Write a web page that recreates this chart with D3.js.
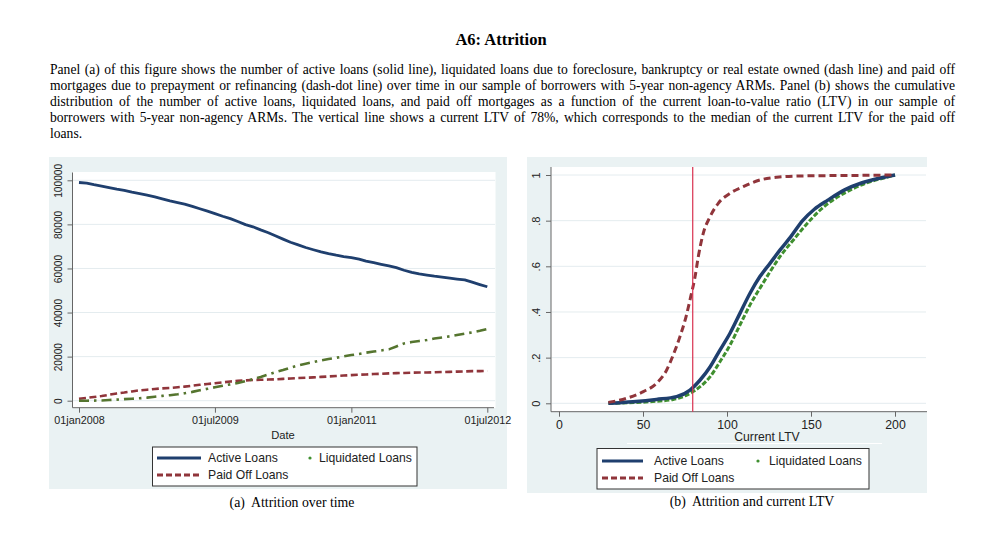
<!DOCTYPE html>
<html><head><meta charset="utf-8">
<script src="https://cdn.jsdelivr.net/npm/d3@7"></script>
<style>
html,body{margin:0;padding:0;background:#fff;}
svg{display:block;}
</style></head>
<body>
<svg id="c" width="1000" height="539"></svg>
<script>
// ---------- DATA ----------
const titleText = "A6: Attrition";
const paragraphLines = [
  "Panel (a) of this figure shows the number of active loans (solid line), liquidated loans due to foreclosure, bankruptcy or real estate owned (dash line) and paid off",
  "mortgages due to prepayment or refinancing (dash-dot line) over time in our sample of borrowers with 5-year non-agency ARMs. Panel (b) shows the cumulative",
  "distribution of the number of active loans, liquidated loans, and paid off mortgages as a function of the current loan-to-value ratio (LTV) in our sample of",
  "borrowers with 5-year non-agency ARMs. The vertical line shows a current LTV of 78%, which corresponds to the median of the current LTV for the paid off",
  "loans."
];
const captionA = "(a)  Attrition over time";
const captionB = "(b)  Attrition and current LTV";
const seriesNames = ["Active Loans", "Liquidated Loans", "Paid Off Loans"];

// Panel (a): monthly counts, Jan 2008 .. Jul 2012
const firstMonth = "2008-01-01";
const activeLoans = [99000,98700,98000,97400,96700,96000,95400,94600,94000,93300,92500,91600,
  90700,89900,89200,88200,87100,86000,84900,83700,82600,81300,79900,78900,
  77500,76200,74800,73300,71900,70700,69500,68500,67500,66700,66000,65400,
  64900,64200,63300,62600,61900,61200,60400,59200,58200,57500,57000,56500,
  56100,55600,55200,54800,53800,52700,51700];
const liquidatedLoans = [0,0,50,100,300,500,700,900,1100,1400,1800,2200,
  2500,2900,3400,4000,4700,5400,6100,6800,7400,8000,8900,9800,
  10800,11900,12900,13900,15000,16000,16800,17500,18300,18900,19500,20100,
  20700,21200,21800,22300,22800,23300,24600,26000,26600,27100,27500,28200,
  28700,29200,29800,30400,31000,31700,32500];
const paidOffLoans = [900,1300,1700,2100,2700,3300,3700,4200,4700,5000,5300,5600,
  5800,6100,6400,6800,7200,7600,7900,8300,8700,9000,9200,9400,
  9500,9600,9700,9900,10100,10300,10400,10600,10800,11000,11200,11400,
  11600,11800,11900,12100,12200,12400,12500,12600,12700,12800,12800,12900,
  13000,13100,13200,13300,13400,13400,13500];
const dateTicks = ["2008-01-01","2009-07-01","2011-01-01","2012-07-01"];
const countTicks = [0,20000,40000,60000,80000,100000];

// Panel (b): cumulative distributions by current LTV
const ltvActive = [29.4,44,58,70,78,84,90,95.8,101.8,107.7,113.7,119.6,125.6,131.5,138,145,152,160,170,180,190,200];
const cdfActive = [0,0.007,0.017,0.029,0.058,0.102,0.16,0.233,0.307,0.394,0.482,0.555,0.613,0.671,0.73,0.80,0.85,0.89,0.935,0.965,0.985,1];
const ltvLiquidated = [29.4,54,68,76,84,90,95.8,101.8,107.7,113.7,119.6,125.6,131.5,140,148,156,165,175,185,195,200];
const cdfLiquidated = [0,0.007,0.017,0.036,0.073,0.117,0.182,0.255,0.343,0.431,0.504,0.576,0.642,0.72,0.79,0.85,0.90,0.94,0.97,0.99,1];
const ltvPaidOff = [29.4,40.3,50.2,58.1,64.1,68,72,75.6,78.4,81,82.9,85.9,89.9,94.8,101.8,109.7,119.6,129.6,145,175,200];
const cdfPaidOff = [0.004,0.022,0.051,0.088,0.146,0.212,0.292,0.379,0.467,0.555,0.642,0.745,0.817,0.876,0.92,0.949,0.978,0.99,0.996,0.998,1];
const medianLTV = 79.6;
const ltvTicks = [0,50,100,150,200];
const shareTicks = [0,0.2,0.4,0.6,0.8,1];

// ---------- STYLE ----------
const C = {
  bg:"#eaf2f3", grid:"#e4ecef", axis:"#666", text:"#222",
  navy:"#1f3f6e", maroon:"#90353b", olive:"#55752f", green:"#3f8f2f", vline:"#d9304f"
};
const sans = "'Liberation Sans', Arial, sans-serif";
const serif = "'Liberation Serif', 'Times New Roman', serif";

const svg = d3.select("#c");
svg.append("rect").attr("width",1000).attr("height",539).attr("fill","#fff");

// ---------- TITLE + PARAGRAPH ----------
svg.append("text").attr("x",501).attr("y",45).attr("text-anchor","middle")
  .attr("font-family",serif).attr("font-weight","bold").attr("font-size",16.5)
  .attr("fill","#000").text(titleText);

const parX0 = 50, parX1 = 955, parBase = 73.5, parLead = 16;
paragraphLines.forEach((ln,i)=>{
  const t = svg.append("text").attr("x",parX0).attr("y",parBase+i*parLead)
    .attr("font-family",serif).attr("font-size",13.6).attr("fill","#000")
    .attr("xml:space","preserve").text(ln);
  if (i < paragraphLines.length-1) {
    const w = t.node().getComputedTextLength();
    const spaces = (ln.match(/ /g)||[]).length;
    t.attr("word-spacing", ((parX1-parX0)-w)/spaces);
  }
});

// ---------- helpers ----------
function legend(g, x0, y0, x1, y1, row1, row2, lx0, lx1, tx, dx, dtx){
  g.append("rect").attr("x",x0).attr("y",y0).attr("width",x1-x0).attr("height",y1-y0)
    .attr("fill","#fff").attr("stroke","#333").attr("stroke-width",1);
  g.append("line").attr("x1",lx0).attr("x2",lx1).attr("y1",row1).attr("y2",row1)
    .attr("stroke",C.navy).attr("stroke-width",3);
  g.append("line").attr("x1",lx0).attr("x2",lx1).attr("y1",row2).attr("y2",row2)
    .attr("stroke",C.maroon).attr("stroke-width",3).attr("stroke-dasharray","6,3");
  g.append("circle").attr("cx",dx).attr("cy",row1).attr("r",1.6).attr("fill",C.green);
  const tt = [[tx,row1,seriesNames[0]],[dtx,row1,seriesNames[1]],[tx,row2,seriesNames[2]]];
  tt.forEach(d=>g.append("text").attr("x",d[0]).attr("y",d[1]).attr("dy","0.35em")
    .attr("font-family",sans).attr("font-size",12.2).attr("fill",C.text).text(d[2]));
}

// ---------- PANEL A ----------
const A = svg.append("g");
A.append("rect").attr("x",49).attr("y",157).attr("width",458).attr("height",332).attr("fill",C.bg);
A.append("rect").attr("x",72.5).attr("y",172).attr("width",423).attr("height",236).attr("fill","#fff");

const parseD = d3.timeParse("%Y-%m-%d");
const months = activeLoans.map((_,i)=>d3.timeMonth.offset(parseD(firstMonth),i));
const xA = d3.scaleTime().domain([parseD(dateTicks[0]), parseD(dateTicks[3])]).range([79,487.3]);
const yA = d3.scaleLinear().domain([0,100000]).range([400.7,180.3]);

A.append("g").selectAll("line").data(countTicks).join("line")
  .attr("x1",73).attr("x2",495).attr("y1",d=>yA(d)).attr("y2",d=>yA(d))
  .attr("stroke",C.grid).attr("stroke-width",1);

const fmtDate = d=>d3.timeFormat("%d%b%Y")(d).toLowerCase();
const axA = A.append("g").attr("transform","translate(0,407.7)")
  .call(d3.axisBottom(xA).tickValues(dateTicks.map(parseD)).tickFormat(fmtDate).tickSize(5).tickPadding(4));
axA.select(".domain").attr("d","M72.5,0H494");
const ayA = A.append("g").attr("transform","translate(72.5,0)")
  .call(d3.axisLeft(yA).tickValues(countTicks).tickFormat(d3.format("d")).tickSize(5).tickPadding(3));
ayA.select(".domain").attr("d","M0,172.5V407.7");
[axA,ayA].forEach(a=>{
  a.selectAll(".domain,.tick line").attr("stroke",C.axis);
  a.selectAll("text").attr("font-family",sans).attr("fill",C.text);
});
axA.selectAll("text").attr("font-size",10.8);
ayA.selectAll("text").attr("font-size",10.2).attr("text-anchor","middle")
  .attr("x",null).attr("dy",null)
  .attr("transform","translate(-14,0) rotate(-90)").attr("y",0).attr("dy","0.35em");

A.append("text").attr("x",283).attr("y",439).attr("text-anchor","middle")
  .attr("font-family",sans).attr("font-size",11.2).attr("fill",C.text).text("Date");

const lineA = vals => d3.line().x((d,i)=>xA(months[i])).y(d=>yA(d))(vals);
A.append("path").attr("d",lineA(paidOffLoans)).attr("fill","none")
  .attr("stroke",C.maroon).attr("stroke-width",2.6).attr("stroke-dasharray","7,3.5");
A.append("path").attr("d",lineA(liquidatedLoans)).attr("fill","none")
  .attr("stroke",C.olive).attr("stroke-width",2.6).attr("stroke-dasharray","10,5,2.5,5");
A.append("path").attr("d",lineA(activeLoans)).attr("fill","none")
  .attr("stroke",C.navy).attr("stroke-width",2.8).attr("stroke-linejoin","round");

legend(A,152.5,447,417,486,458,475,157,201,208,310,319);

svg.append("text").attr("x",292).attr("y",507).attr("text-anchor","middle")
  .attr("font-family",serif).attr("font-size",13.8).attr("fill","#000")
  .attr("xml:space","preserve").text(captionA);

// ---------- PANEL B ----------
const B = svg.append("g");
B.append("rect").attr("x",527).attr("y",157).attr("width",400).attr("height",336).attr("fill",C.bg);
B.append("rect").attr("x",551).attr("y",167).attr("width",376).attr("height",244.7).attr("fill","#fff");

const xB = d3.scaleLinear().domain([0,200]).range([559,895]);
const yB = d3.scaleLinear().domain([0,1]).range([403.3,175]);

B.append("g").selectAll("line").data(shareTicks).join("line")
  .attr("x1",551.5).attr("x2",926).attr("y1",d=>yB(d)).attr("y2",d=>yB(d))
  .attr("stroke",C.grid).attr("stroke-width",1);

const axB = B.append("g").attr("transform","translate(0,411.7)")
  .call(d3.axisBottom(xB).tickValues(ltvTicks).tickFormat(d3.format("d")).tickSize(5).tickPadding(4));
axB.select(".domain").attr("d","M551,0H927");
const fmtShare = d => d===0 ? "0" : d===1 ? "1" : d3.format(".1f")(d).replace(/^0/,"");
const ayB = B.append("g").attr("transform","translate(551,0)")
  .call(d3.axisLeft(yB).tickValues(shareTicks).tickFormat(fmtShare).tickSize(5).tickPadding(3));
ayB.select(".domain").attr("d","M0,167V411.7");
[axB,ayB].forEach(a=>{
  a.selectAll(".domain,.tick line").attr("stroke",C.axis);
  a.selectAll("text").attr("font-family",sans).attr("fill",C.text);
});
axB.selectAll("text").attr("font-size",12.3);
ayB.selectAll("text").attr("font-size",11).attr("text-anchor","middle")
  .attr("x",null).attr("dy",null)
  .attr("transform","translate(-15,0) rotate(-90)").attr("y",0).attr("dy","0.35em");

B.append("text").attr("x",767).attr("y",441).attr("text-anchor","middle")
  .attr("font-family",sans).attr("font-size",12.2).attr("fill",C.text).text("Current LTV");
B.append("line").attr("x1",627).attr("x2",882).attr("y1",443.5).attr("y2",443.5)
  .attr("stroke","#fff").attr("stroke-width",1.2);

const lineB = (xs,ys) => d3.line().curve(d3.curveMonotoneX)
  .x((d,i)=>xB(xs[i])).y((d,i)=>yB(ys[i]))(xs);
B.append("path").attr("d",lineB(ltvLiquidated,cdfLiquidated)).attr("fill","none")
  .attr("stroke",C.green).attr("stroke-width",3).attr("stroke-dasharray","5,2");
B.append("path").attr("d",lineB(ltvActive,cdfActive)).attr("fill","none")
  .attr("stroke",C.navy).attr("stroke-width",3.5);
B.append("path").attr("d",lineB(ltvPaidOff,cdfPaidOff)).attr("fill","none")
  .attr("stroke",C.maroon).attr("stroke-width",3).attr("stroke-dasharray","7,4");
B.append("line").attr("x1",xB(medianLTV)).attr("x2",xB(medianLTV)).attr("y1",167).attr("y2",411.7)
  .attr("stroke",C.vline).attr("stroke-width",1.2);

legend(B,597,448.5,869,489,461,478,602,643,654,758,769);

svg.append("text").attr("x",752).attr("y",506).attr("text-anchor","middle")
  .attr("font-family",serif).attr("font-size",13.8).attr("fill","#000")
  .attr("xml:space","preserve").text(captionB);
</script>
</body></html>
